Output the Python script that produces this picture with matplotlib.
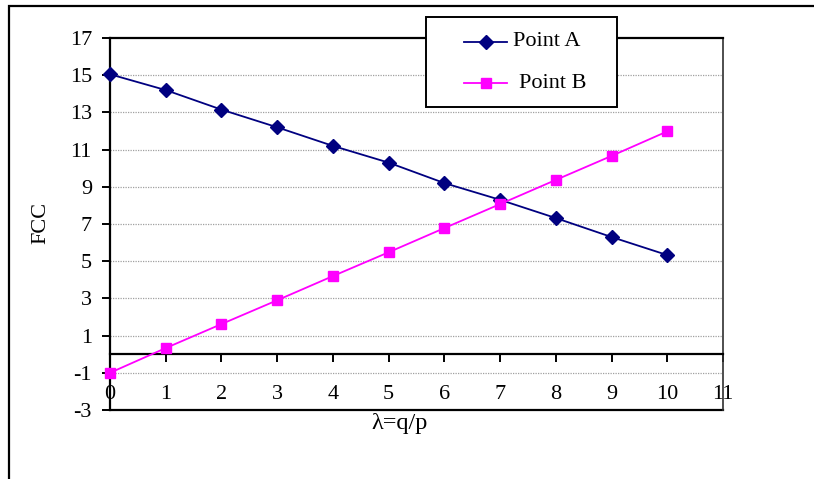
import matplotlib
matplotlib.use('Agg')
import matplotlib.pyplot as plt
from matplotlib.patches import Rectangle
from matplotlib.lines import Line2D

# lambda = q/p
lam = [0, 1, 2, 3, 4, 5, 6, 7, 8, 9, 10]
# FCC values
pointA = [15.05, 14.2, 13.15, 12.2, 11.2, 10.3, 9.2, 8.3, 7.32, 6.3, 5.33]
pointB = [-1.0, 0.33, 1.62, 2.9, 4.2, 5.48, 6.78, 8.07, 9.37, 10.66, 11.98]
yticks = [-3, -1, 1, 3, 5, 7, 9, 11, 13, 15, 17]
xticks = [0, 1, 2, 3, 4, 5, 6, 7, 8, 9, 10, 11]

plt.rcParams['font.family'] = ['Liberation Serif', 'DejaVu Serif']
plt.rcParams['font.size'] = 16
plt.rcParams['axes.unicode_minus'] = False

W, H = 814, 479
fig = plt.figure(figsize=(W / 100, H / 100), dpi=100)
ax = fig.add_axes([110 / W, 69 / H, 613 / W, 372 / H])

# pixel -> figure fraction helpers
def fx(px):
    return px / W

def fy(py):
    return 1 - py / H

# Outer chart border
fig.patches.append(Rectangle((fx(9), -0.05), 1.1, fy(6) + 0.05,
                             transform=fig.transFigure, fill=False,
                             edgecolor='black', linewidth=1.6))

# Gridlines
for y in yticks[1:-1]:
    ax.axhline(y, color='#a0a0a0', linewidth=0.9, linestyle=(0, (1, 1)), zorder=1)

ax.plot(lam, pointA, '-D', color='#000080', markersize=7.5, linewidth=1.3,
        zorder=3, clip_on=False)
ax.plot(lam, pointB, '-s', color='#ff00ff', markersize=7.5, linewidth=1.3,
        zorder=3, clip_on=False)

ax.set_xlim(0, 11)
ax.set_ylim(-3, 17)
ax.set_yticks(yticks)
ax.set_xticks(xticks)

# x axis crosses at 0
ax.spines['bottom'].set_position(('data', 0))
ax.axhline(-3, color='black', linewidth=1.6, zorder=2, clip_on=False)
for s in ['left', 'top', 'bottom']:
    ax.spines[s].set_linewidth(1.6)
ax.spines['right'].set_linewidth(1.2)
ax.spines['right'].set_color('#303030')

ax.tick_params(axis='y', direction='out', length=6, width=1.4, pad=7)
ax.tick_params(axis='x', direction='out', length=6, width=1.4, pad=16)

fig.text(fx(41), fy(223), 'FCC', rotation=90, ha='center', va='center', fontsize=16)
fig.text(fx(400), fy(424), 'λ=q/p', ha='center', va='center', fontsize=17.5)

# Legend box (Excel style, overlapping the plot top)
fig.patches.append(Rectangle((fx(426), fy(107)), fx(617) - fx(426), fy(17) - fy(107),
                             transform=fig.transFigure, facecolor='white',
                             edgecolor='black', linewidth=1.4, zorder=5))
fig.lines.append(Line2D([fx(464), fx(507)], [fy(42), fy(42)], transform=fig.transFigure,
                        color='#000080', linewidth=1.3, zorder=6))
fig.lines.append(Line2D([fx(485.5)], [fy(42)], transform=fig.transFigure,
                        color='#000080', marker='D', markersize=7.5, zorder=6))
fig.lines.append(Line2D([fx(464), fx(507)], [fy(83), fy(83)], transform=fig.transFigure,
                        color='#ff00ff', linewidth=1.3, zorder=6))
fig.lines.append(Line2D([fx(485.5)], [fy(83)], transform=fig.transFigure,
                        color='#ff00ff', marker='s', markersize=7.5, zorder=6))
fig.text(fx(513), fy(42), 'Point A', ha='left', va='center', fontsize=16, zorder=7)
fig.text(fx(519), fy(83), 'Point B', ha='left', va='center', fontsize=16, zorder=7)

fig.savefig('out.png', dpi=100)
